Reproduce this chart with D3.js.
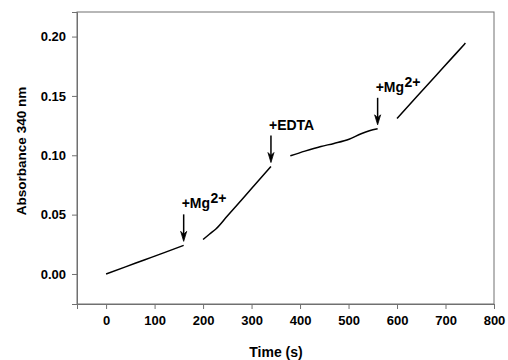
<!DOCTYPE html>
<html><head><meta charset="utf-8">
<script src="https://cdn.jsdelivr.net/npm/d3@7"></script>
<style>body{margin:0;background:#fff}svg{display:block}text{font-family:Arial,"Liberation Sans",sans-serif;font-weight:bold;fill:#000}</style>
</head><body><svg id="c" width="508" height="360"></svg>
<script>
// Data: time (s) and absorbance at 340 nm, per trace segment
const seg1Time = [0, 40, 80, 120, 160];
const seg1Abs  = [0.0, 0.006, 0.012, 0.018, 0.0241];
const seg2Time = [200, 213, 227, 250, 272, 300, 340];
const seg2Abs  = [0.029, 0.0335, 0.0381, 0.0488, 0.059, 0.0720, 0.0905];
const seg3Time = [380, 410, 443, 470, 501, 526, 543, 560];
const seg3Abs  = [0.0995, 0.1035, 0.1074, 0.1100, 0.1135, 0.1181, 0.1206, 0.1223];
const seg4Time = [600, 640, 680, 720, 741];
const seg4Abs  = [0.131, 0.149, 0.167, 0.185, 0.1945];
const annotLabels = ["+Mg", "+EDTA", "+Mg"];
const annotSup    = ["2+", "", "2+"];
const annotTimes  = [160, 340, 560];
const annotAbs    = [0.0241, 0.0905, 0.1223];
const xTicks = [0, 100, 200, 300, 400, 500, 600, 700, 800];
const yTicks = [0.00, 0.05, 0.10, 0.15, 0.20];

const svg = d3.select("#c");
const L = 77, R = 494, T = 12, B = 304;
const x = d3.scaleLinear().domain([-60, 800]).range([L, R]);
const y = d3.scaleLinear().domain([-0.0253, 0.2207]).range([B, T]);

const frameColor = "#707070";
svg.append("rect").attr("x", L).attr("y", T).attr("width", R - L).attr("height", B - T)
  .attr("fill", "none").attr("stroke", frameColor).attr("stroke-width", 1);

const xAxis = svg.append("g").attr("transform", `translate(0,${B})`)
  .call(d3.axisBottom(x).tickValues(xTicks).tickSize(5).tickPadding(7).tickFormat(d3.format("d")));
const yAxis = svg.append("g").attr("transform", `translate(${L},0)`)
  .call(d3.axisLeft(y).tickValues(yTicks).tickSize(5).tickPadding(6).tickFormat(d3.format(".2f")));
[xAxis, yAxis].forEach(g => {
  g.select(".domain").attr("stroke", frameColor);
  g.selectAll(".tick line").attr("stroke", frameColor);
  g.selectAll(".tick text").attr("font-size", 13).attr("font-family", "Arial, 'Liberation Sans', sans-serif").attr("font-weight", "bold").attr("fill", "#000");
});

const line = d3.line().x(d => x(d[0])).y(d => y(d[1])).curve(d3.curveMonotoneX);
[[seg1Time, seg1Abs], [seg2Time, seg2Abs], [seg3Time, seg3Abs], [seg4Time, seg4Abs]].forEach(([t, a]) => {
  svg.append("path").datum(t.map((v, i) => [v, a[i]])).attr("d", line)
    .attr("fill", "none").attr("stroke", "#000").attr("stroke-width", 1.5);
});

annotTimes.forEach((t, i) => {
  const ax = x(t), tip = y(annotAbs[i]) - 4, top = tip - 27;
  svg.append("line").attr("x1", ax).attr("x2", ax).attr("y1", top).attr("y2", tip - 6)
    .attr("stroke", "#000").attr("stroke-width", 1.5);
  svg.append("path").attr("d", `M${ax - 3},${tip - 10} L${ax},${tip} L${ax + 3},${tip - 10} L${ax},${tip - 7} Z`)
    .attr("fill", "#000").attr("stroke", "#000").attr("stroke-width", 0.8);
  const tx = svg.append("text").attr("x", ax - 2).attr("y", top - 6).attr("font-size", 14).text(annotLabels[i]);
  if (annotSup[i]) tx.append("tspan").attr("dy", -5).attr("dx", 0.5).text(annotSup[i]);
});

svg.append("text").attr("x", 276).attr("y", 357).attr("text-anchor", "middle").attr("font-size", 14).text("Time (s)");
svg.append("text").attr("transform", "translate(26,151) rotate(-90)").attr("text-anchor", "middle").attr("font-size", 13.5).text("Absorbance 340 nm");
</script></body></html>
